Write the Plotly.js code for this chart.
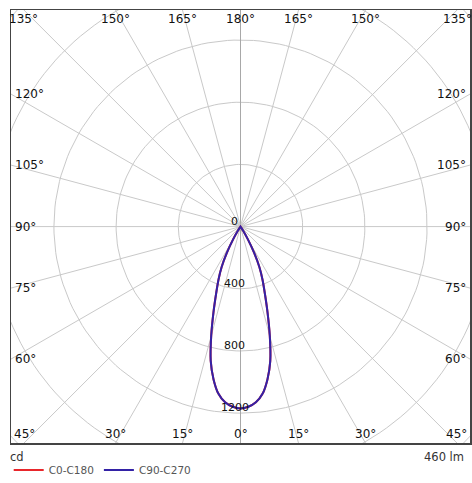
<!DOCTYPE html>
<html>
<head>
<meta charset="utf-8">
<script src="https://cdn.plot.ly/plotly-3.0.1.min.js"></script>
<style>html,body{margin:0;padding:0;background:#fff;}#chart{width:472px;height:483px;}</style>
</head>
<body>
<div id="chart"></div>
<script>
// Gamma angles (degrees from nadir) and luminous intensity (cd)
const gammaDeg = [0, 2.5, 5, 7.5, 10, 12.5, 15, 17.5, 20, 22.5, 25, 27.5, 30, 32.5, 35, 40, 45, 50, 60, 70, 80, 90, 100, 110, 120, 130, 140, 150, 160, 170, 180];
const c0c180   = [1170, 1160, 1135, 1085, 998, 885, 728, 578, 458, 370, 287, 189, 95, 32, 8, 0, 0, 0, 0, 0, 0, 0, 0, 0, 0, 0, 0, 0, 0, 0, 0];
const c90c270  = [1170, 1160, 1135, 1085, 998, 885, 728, 578, 458, 370, 287, 189, 95, 32, 8, 0, 0, 0, 0, 0, 0, 0, 0, 0, 0, 0, 0, 0, 0, 0, 0];
const seriesNames = ["C0-C180", "C90-C270"];
const seriesColors = ["#e8262b", "#3322a6"];

// Grid
const ringValues = [400, 800, 1200, 1600, 2000, 2400];
const ringLabels = [0, 400, 800, 1200];
const spokeAngles = [0, 15, 30, 45, 60, 75, 90, 105, 120, 135, 150, 165, 180, 195, 210, 225, 240, 255, 270, 285, 300, 315, 330, 345];
const edgeLabelAngles = [0, 15, 30, 45, 60, 75, 90, 105, 120, 135, 150, 165, 180];
const fluxText = "460 lm";
const unitText = "cd";

const XR = 1476, YT = 1393, YB = -1392;
const rad = d => d * Math.PI / 180;
const FONT = "DejaVu Sans, sans-serif";

const traces = [];
// rings
ringValues.forEach(v => {
  const xs = [], ys = [];
  for (let a = 0; a <= 360; a += 2) { xs.push(v * Math.sin(rad(a))); ys.push(-v * Math.cos(rad(a))); }
  traces.push({type: "scatter", mode: "lines", x: xs, y: ys, line: {color: "#c9c9c9", width: 1}, hoverinfo: "skip", showlegend: false});
});
// spokes
spokeAngles.forEach(a => {
  const L = 3000;
  traces.push({type: "scatter", mode: "lines", x: [0, L * Math.sin(rad(a))], y: [0, -L * Math.cos(rad(a))],
    line: {color: (a % 180 === 0) ? "#a8a8a8" : "#c9c9c9", width: 1}, hoverinfo: "skip", showlegend: false});
});
// series
function curve(vals) {
  const xs = [], ys = [];
  for (let i = gammaDeg.length - 1; i >= 0; i--) { xs.push(-vals[i] * Math.sin(rad(gammaDeg[i]))); ys.push(-vals[i] * Math.cos(rad(gammaDeg[i]))); }
  for (let i = 1; i < gammaDeg.length; i++) { xs.push(vals[i] * Math.sin(rad(gammaDeg[i]))); ys.push(-vals[i] * Math.cos(rad(gammaDeg[i]))); }
  return {xs, ys};
}
[c0c180, c90c270].forEach((vals, k) => {
  const c = curve(vals);
  traces.push({type: "scatter", mode: "lines", name: seriesNames[k], x: c.xs, y: c.ys,
    line: {color: seriesColors[k], width: 2, shape: "spline", smoothing: 0.6}, hoverinfo: "skip"});
});

const annotations = [];
// angle labels on box edges
edgeLabelAngles.forEach(g => {
  [-1, 1].forEach(side => {
    if ((g === 0 || g === 180) && side === -1) return;
    const dx = side * Math.sin(rad(g)), dy = -Math.cos(rad(g));
    let t = Infinity, edge = "";
    if (Math.abs(dx) > 1e-9) { const tx = XR / Math.abs(dx); if (tx < t) { t = tx; edge = side < 0 ? "left" : "right"; } }
    if (dy > 1e-9) { const ty = YT / dy; if (ty < t) { t = ty; edge = "top"; } }
    if (dy < -1e-9) { const ty = -YB / -dy; if (ty < t) { t = ty; edge = "bottom"; } }
    const a = {x: dx * t, y: dy * t, text: g + "°", showarrow: false, font: {family: FONT, size: 12, color: "#111"}};
    if (edge === "left") { a.xanchor = "left"; a.yanchor = "middle"; a.xshift = 2; }
    else if (edge === "right") { a.xanchor = "right"; a.yanchor = "middle"; a.xshift = -2; }
    else if (edge === "top") { a.xanchor = "center"; a.yanchor = "top"; }
    else { a.xanchor = "center"; a.yanchor = "bottom"; }
    annotations.push(a);
  });
});
// ring value labels
ringLabels.forEach(v => {
  annotations.push({x: 0, y: -v, text: String(v), showarrow: false, xanchor: "center", yanchor: "bottom", xshift: -6, yshift: -3,
    font: {family: FONT, size: 11, color: "#111"}});
});
annotations.push({xref: "paper", yref: "paper", x: 0, y: -0.032, xanchor: "left", yanchor: "middle", xshift: -3, text: unitText, showarrow: false, font: {family: FONT, size: 11.5, color: "#333"}});
annotations.push({xref: "paper", yref: "paper", x: 1, y: -0.032, xanchor: "right", yanchor: "middle", xshift: -4, text: fluxText, showarrow: false, font: {family: FONT, size: 11.5, color: "#333"}});

const axis = {showgrid: false, zeroline: false, showticklabels: false, ticks: "", showline: true, mirror: true, linecolor: "#444", linewidth: 1.5, fixedrange: true};
const layout = {
  width: 472, height: 483,
  margin: {l: 11, r: 2, t: 10, b: 40, autoexpand: false},
  paper_bgcolor: "#fff", plot_bgcolor: "#fff",
  xaxis: Object.assign({}, axis, {range: [-XR, XR]}),
  yaxis: Object.assign({}, axis, {range: [YB, YT]}),
  showlegend: true,
  legend: {orientation: "h", x: -0.005, xanchor: "left", y: -0.029, yanchor: "top", font: {family: FONT, size: 10.5, color: "#555"}, itemwidth: 30, bgcolor: "rgba(0,0,0,0)"},
  annotations: annotations
};
Plotly.newPlot("chart", traces, layout, {displayModeBar: false, staticPlot: true});
</script>
</body>
</html>
